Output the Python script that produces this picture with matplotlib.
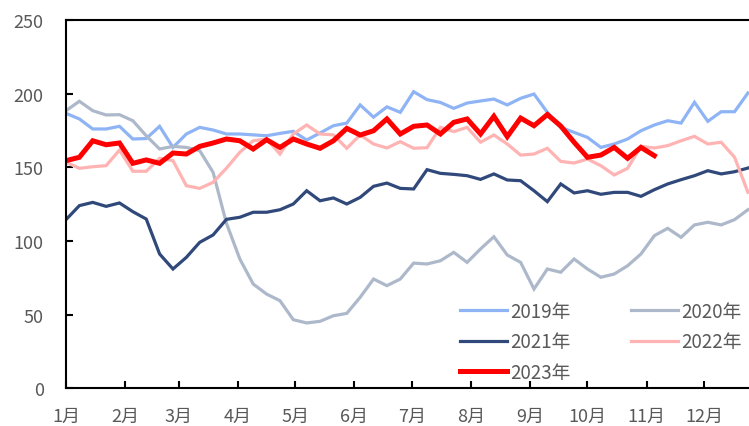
import matplotlib.pyplot as plt
import numpy as np

plt.rcParams['font.family'] = ['Noto Sans CJK SC', 'DejaVu Sans']

# weekly values, one point per week starting from 1 Jan
y2019 = [186.6, 182.8, 176, 176, 177.8, 169.2, 169.5, 177.8, 163.5, 172.6,
         177.1, 175.3, 172.6, 172.6, 172, 171.4, 173, 174.4, 168.5, 173.3,
         178.2, 180, 192.3, 184, 191, 187.3, 201.3, 195.9, 194, 190,
         193.6, 195, 196.3, 192.3, 196.8, 199.7, 187.3, 177.1, 173.7, 170.3,
         163.5, 165.8, 169.2, 174.8, 178.7, 181.6, 180, 194.1, 181.2, 187.7,
         187.7, 200.4]
y2020 = [188.4, 194.8, 188.4, 185.5, 185.7, 181.6, 171.4, 162.4, 164.2, 163.5,
         161.3, 146.6, 112, 87.8, 70.8, 64, 59.5, 46.6, 44.4, 45.5,
         49.3, 50.9, 61.8, 74.2, 69.7, 74.2, 85, 84.4, 86.6, 92.3,
         85.5, 94.6, 102.9, 90.5, 85.5, 67.4, 81, 78.8, 87.8, 81,
         75.4, 77.6, 83.2, 91.2, 103.6, 108.6, 102.5, 110.9, 112.7, 110.9,
         114.5, 121.2]
y2021 = [114.5, 124, 126.2, 123.5, 125.8, 119.9, 114.9, 91.2, 81, 88.9,
         99.1, 104.1, 114.7, 116.1, 119.5, 119.5, 121.2, 125.1, 134.1, 127.3,
         129.2, 125.1, 129.6, 137.1, 139.3, 135.7, 135.3, 148.4, 145.9, 145.2,
         144.3, 141.8, 145.5, 141.4, 140.9, 134.1, 126.7, 138.7, 132.6, 134.1,
         131.7, 133, 133, 130.3, 134.8, 138.7, 141.6, 144.3, 147.7, 145.5,
         147, 149.5]
y2022 = [153.4, 149.3, 150.4, 151.1, 161.7, 147.3, 147.3, 156.1, 154.5, 137.5,
         135.7, 139.8, 149.4, 160.2, 168, 169.2, 159, 172.6, 178.7, 172.6,
         172, 162.9, 172, 165.8, 163.1, 167.4, 162.9, 163.3, 177.1, 174.2,
         177.1, 167, 171.9, 165.8, 158.3, 159, 162.9, 154, 152.9, 155.6,
         151.1, 144.8, 149.3, 164.2, 163.1, 164.7, 168, 171, 165.8, 167,
         156.8, 133]
y2023 = [154.5, 156.8, 168, 165.3, 166.5, 152.7, 155, 152.7, 159.7, 159,
         164.2, 166.5, 169.2, 168, 162.4, 168.7, 163.5, 169.2, 165.8, 162.9,
         168, 176.4, 171.9, 174.8, 182.8, 172.6, 177.8, 178.7, 172.6, 180.5,
         182.8, 172.6, 184.6, 170.8, 183.4, 178.2, 185.8, 178, 167, 156.8,
         158.3, 163.5, 156.1, 163.5, 157.9]

years = ['2019年', '2020年', '2021年', '2022年', '2023年']
month_days = [0, 31, 59, 90, 120, 151, 181, 212, 243, 273, 304, 334]
month_labels = [f'{m}月' for m in range(1, 13)]

colors = ['#8EB4F5', '#ADB9CA', '#30497A', '#FFB3B3', '#FF0000']
widths = [2.3, 2.3, 2.3, 2.3, 3.6]

fig = plt.figure(figsize=(7.49, 4.27), dpi=100)
ax = fig.add_axes([66 / 749, 1 - 389.4 / 427, 1 - 66 / 749, (389.4 - 20.9) / 427])

lines = []
for vals, name, c, lw in zip([y2019, y2020, y2021, y2022, y2023], years, colors, widths):
    x = np.arange(len(vals))
    ln, = ax.plot(x, vals, color=c, lw=lw, label=name, solid_joinstyle='miter')
    lines.append(ln)

ax.set_xlim(0, 51.08)
ax.set_ylim(0, 250)
ax.set_yticks([0, 50, 100, 150, 200, 250])
ax.set_xticks(np.array(month_days) / 7)
ax.set_xticklabels(month_labels)

ax.spines['right'].set_visible(False)
for s in ['left', 'top', 'bottom']:
    ax.spines[s].set_linewidth(1.5)
    ax.spines[s].set_color('black')
ax.tick_params(axis='both', direction='in', length=5, width=1.5, colors='black',
               labelcolor='#595959', labelsize=13)
ax.tick_params(axis='y', pad=16)
ax.tick_params(axis='x', pad=13)

# two columns: 2019/2020, 2021/2022, 2023
order = [0, 2, 4, 1, 3]
fig.legend([lines[i] for i in order], [years[i] for i in order], ncol=2,
           loc='upper left', bbox_to_anchor=(460 / 749, 1 - 302 / 427),
           frameon=False, fontsize=13.5, labelcolor='#595959',
           handlelength=2.5, handletextpad=0.2, columnspacing=3.2,
           labelspacing=0.5, borderpad=0, borderaxespad=0)

fig.savefig('out.png', dpi=100)
